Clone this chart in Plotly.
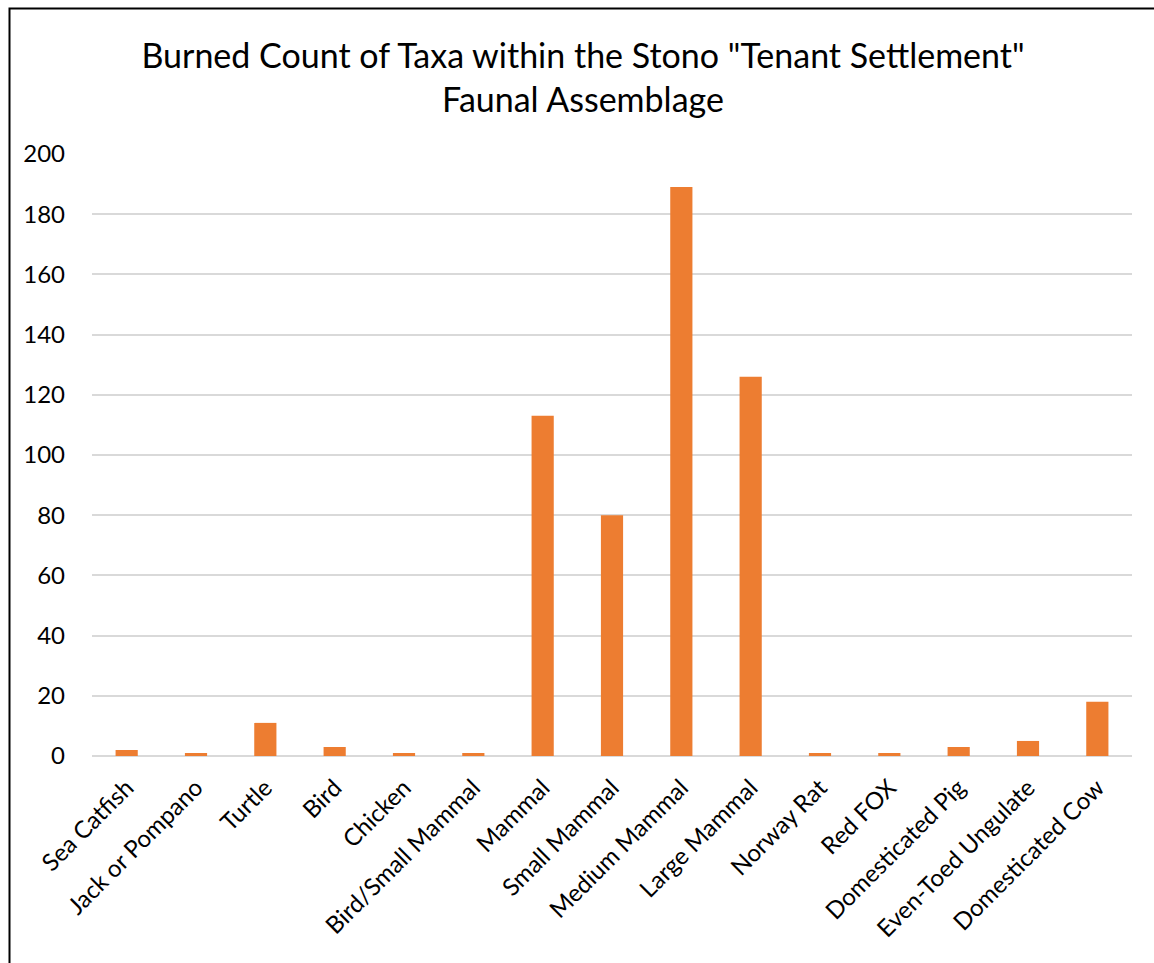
import plotly.graph_objects as go

# Burned specimen counts per taxon
taxa = [
    "Sea Catfish", "Jack or Pompano", "Turtle", "Bird", "Chicken",
    "Bird/Small Mammal", "Mammal", "Small Mammal", "Medium Mammal",
    "Large Mammal", "Norway Rat", "Red FOX", "Domesticated Pig",
    "Even-Toed Ungulate", "Domesticated Cow",
]
burned_counts = [2, 1, 11, 3, 1, 1, 113, 80, 189, 126, 1, 1, 3, 5, 18]
y_ticks = [0, 20, 40, 60, 80, 100, 120, 140, 160, 180, 200]

W, H = 1154, 963
ML, MR, MT, MB = 92, 22, 154, 207
PW, PH = W - ML - MR, H - MT - MB

FONT = "Lato, 'Open Sans', sans-serif"

fig = go.Figure(
    go.Bar(
        x=taxa,
        y=burned_counts,
        marker=dict(color="#ED7D31", line=dict(width=0)),
    )
)

# Outer frame of the chart (left and top edges visible)
def px_to_paper_x(px):
    return (px - ML) / PW

def px_to_paper_y(py):
    return 1 - (py - MT) / PH

fig.add_shape(
    type="rect", xref="paper", yref="paper",
    x0=px_to_paper_x(9.5), x1=px_to_paper_x(W + 20),
    y0=px_to_paper_y(H + 20), y1=px_to_paper_y(8.5),
    line=dict(color="#000000", width=2), fillcolor="rgba(0,0,0,0)",
    layer="below",
)

fig.update_layout(
    width=W, height=H,
    margin=dict(l=ML, r=MR, t=MT, b=MB, autoexpand=False),
    paper_bgcolor="white", plot_bgcolor="white",
    bargap=0.68,
    showlegend=False,
    title=dict(
        text='Burned Count of Taxa within the Stono "Tenant Settlement"<br>Faunal Assemblage',
        x=583 / W, xref="container", xanchor="center",
        y=1 - 68 / H, yref="container", yanchor="top",
        font=dict(family=FONT, size=34, color="#000000"),
    ),
    font=dict(family=FONT, size=24, color="#000000"),
)

fig.update_xaxes(
    tickangle=-45,
    tickfont=dict(family=FONT, size=24, color="#000000"),
    showgrid=False, showline=False, ticks="", ticklabelstandoff=12,
)
fig.update_yaxes(
    range=[0, 200],
    tickvals=y_ticks,
    tickfont=dict(family=FONT, size=24, color="#000000"),
    showgrid=True, gridcolor="#D9D9D9", gridwidth=1.5,
    zeroline=True, zerolinecolor="#D9D9D9", zerolinewidth=1.5,
    showline=False, ticks="", ticklabelstandoff=26,
)

fig.write_html("out.html")
